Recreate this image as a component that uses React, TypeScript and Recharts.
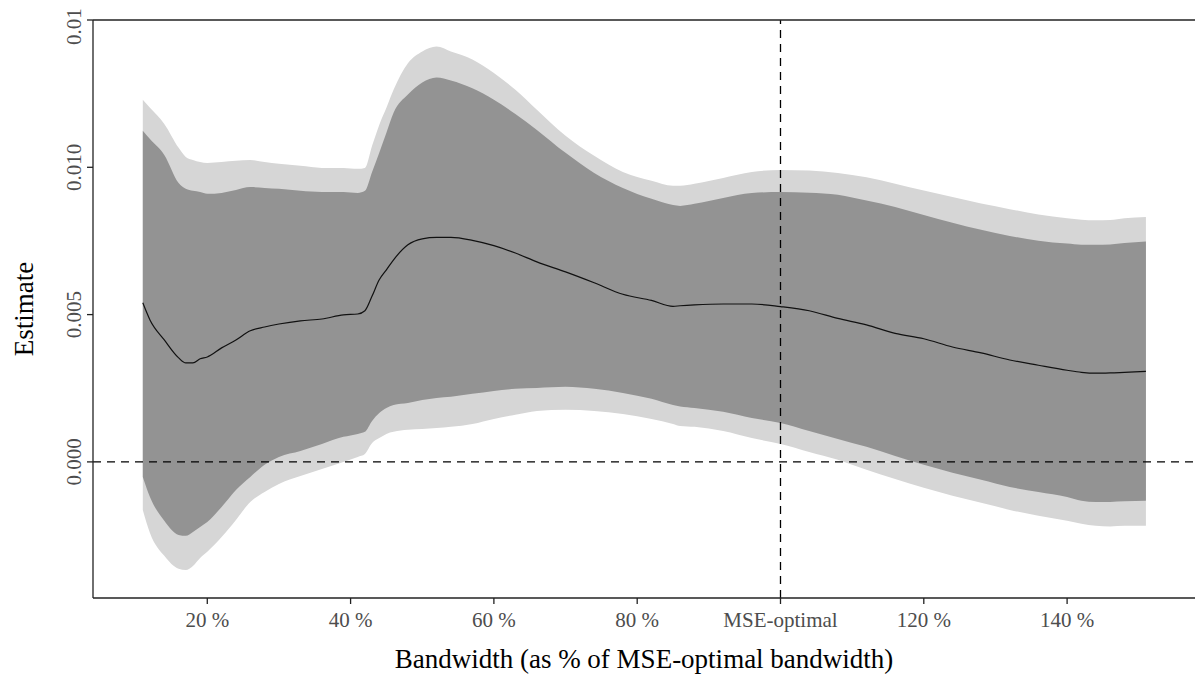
import { Area, ComposedChart, Label, Line, ReferenceLine, XAxis, YAxis } from "recharts";

// bandwidth as % of the MSE-optimal one
const pct = [11, 12, 14, 16, 17, 18, 19, 20, 22, 24, 26, 28, 30, 33, 36, 39, 41, 42, 43, 44, 45, 46, 48, 50, 52, 54, 57, 60, 63, 66, 70, 74, 78, 82, 85, 86, 88, 92, 96, 100, 104, 108, 112, 116, 120, 124, 128, 132, 136, 140, 142, 144, 146, 148, 151];

const estimate = [0.0054, 0.00482, 0.00414, 0.00353, 0.00336, 0.00336, 0.0035, 0.00356, 0.00387, 0.00414, 0.00445, 0.00458, 0.00468, 0.00479, 0.00485, 0.00499, 0.00502, 0.00513, 0.00563, 0.00618, 0.00652, 0.00686, 0.00737, 0.00757, 0.00762, 0.00762, 0.00752, 0.00734, 0.00709, 0.00679, 0.00645, 0.00608, 0.00569, 0.00548, 0.00528, 0.0053, 0.00533, 0.00536, 0.00536, 0.00527, 0.00513, 0.00487, 0.00465, 0.00436, 0.00418, 0.0039, 0.0037, 0.00346, 0.00328, 0.00311, 0.00304, 0.00301, 0.00302, 0.00304, 0.00307];

const innerUpper = [0.01124, 0.01096, 0.01042, 0.00947, 0.00927, 0.0092, 0.00916, 0.0091, 0.00913, 0.00923, 0.00933, 0.0093, 0.00927, 0.0092, 0.00916, 0.00916, 0.00913, 0.0092, 0.00984, 0.01049, 0.01117, 0.01185, 0.01247, 0.01288, 0.01305, 0.01295, 0.01268, 0.01229, 0.01181, 0.01127, 0.01049, 0.00981, 0.0093, 0.00893, 0.00872, 0.00869, 0.00876, 0.00896, 0.00913, 0.00916, 0.00914, 0.00907, 0.00887, 0.00865, 0.00838, 0.00812, 0.00788, 0.00767, 0.00751, 0.00741, 0.00737, 0.00737, 0.00738, 0.00743, 0.00748];

const innerLower = [-0.00051, -0.00119, -0.002, -0.00248, -0.00251, -0.00238, -0.00221, -0.00204, -0.00153, -0.00095, -0.00051, -0.0001, 0.00017, 0.00037, 0.00061, 0.00085, 0.00095, 0.00102, 0.00139, 0.00166, 0.00183, 0.00193, 0.002, 0.0021, 0.00217, 0.00221, 0.00231, 0.00241, 0.00248, 0.00251, 0.00255, 0.00248, 0.00234, 0.00214, 0.00193, 0.00188, 0.00183, 0.0017, 0.00149, 0.00132, 0.00105, 0.00078, 0.00051, 0.0002, -0.0001, -0.00037, -0.00061, -0.00085, -0.00102, -0.00119, -0.00132, -0.00136, -0.00136, -0.00134, -0.00132];

const outerUpper = [0.01229, 0.01202, 0.01147, 0.01066, 0.01035, 0.01025, 0.01018, 0.01015, 0.01018, 0.01022, 0.01025, 0.01018, 0.01012, 0.01005, 0.00998, 0.00998, 0.00995, 0.00998, 0.01073, 0.01144, 0.01202, 0.01263, 0.01353, 0.01393, 0.0141, 0.01393, 0.01366, 0.0132, 0.01263, 0.01195, 0.01107, 0.01039, 0.00984, 0.00954, 0.00937, 0.00937, 0.00944, 0.00964, 0.00984, 0.00991, 0.00989, 0.00981, 0.00966, 0.00944, 0.00921, 0.00899, 0.00877, 0.00858, 0.0084, 0.00827, 0.00822, 0.0082, 0.00821, 0.00827, 0.00831];

const outerLower = [-0.00163, -0.00241, -0.00319, -0.00363, -0.00367, -0.00353, -0.00326, -0.00305, -0.00255, -0.00197, -0.00136, -0.00102, -0.00075, -0.00048, -0.00024, 0, 0.00017, 0.00027, 0.00064, 0.00081, 0.00095, 0.00102, 0.00109, 0.00112, 0.00115, 0.00119, 0.00129, 0.00146, 0.0016, 0.00173, 0.00177, 0.00173, 0.00163, 0.00146, 0.00129, 0.00122, 0.00119, 0.00105, 0.00081, 0.00061, 0.00034, 0.00007, -0.00027, -0.00058, -0.00088, -0.00115, -0.00139, -0.00163, -0.00183, -0.002, -0.0021, -0.00217, -0.00219, -0.00217, -0.00217];

const xTicks = [20, 40, 60, 80, 100, 120, 140];
const yTicks = [0, 0.005, 0.01, 0.015];
// the top label is cut to "0.01" in the original
const yTickLabels = ["0.000", "0.005", "0.010", "0.01"];

const data = pct.map((p, i) => ({
  pct: p,
  estimate: estimate[i],
  inner: [innerLower[i], innerUpper[i]],
  outer: [outerLower[i], outerUpper[i]],
}));

const font = '"Liberation Serif", "Times New Roman", serif';

function XTick({ x, payload }: any) {
  const v = payload.value;
  return (
    <text x={x} y={627} textAnchor="middle" fontFamily={font} fontSize={21} fill="#4d4d4d">
      {v === 100 ? "MSE-optimal" : `${v} %`}
    </text>
  );
}

function YTick({ y, payload }: any) {
  const i = yTicks.indexOf(payload.value);
  const top = i === yTicks.length - 1;
  const ty = top ? 45 : y;
  return (
    <text
      x={81}
      y={ty}
      transform={`rotate(-90, 81, ${ty})`}
      textAnchor={top ? "start" : "middle"}
      fontFamily={font}
      fontSize={21}
      fill="#4d4d4d"
    >
      {yTickLabels[i]}
    </text>
  );
}

export default function App() {
  return (
    <div style={{ position: "absolute", left: 0, top: 0, background: "#fff" }}>
      <ComposedChart width={1195} height={674} data={data} margin={{ top: 20, right: 0, bottom: 0, left: 0 }}>
        <XAxis
          dataKey="pct"
          type="number"
          domain={[4.05, 157.85]}
          allowDataOverflow
          ticks={xTicks}
          tick={<XTick />}
          tickSize={6}
          height={76}
          stroke="#222"
          strokeWidth={1.3}
        >
          <Label
            content={() => (
              <text x={644} y={668} textAnchor="middle" fontFamily={font} fontSize={27} fill="#000">
                Bandwidth (as % of MSE-optimal bandwidth)
              </text>
            )}
          />
        </XAxis>
        <YAxis
          type="number"
          domain={[-0.00462, 0.015]}
          allowDataOverflow
          ticks={yTicks}
          tick={<YTick />}
          tickSize={6}
          width={93}
          stroke="#222"
          strokeWidth={1.3}
        >
          <Label
            content={() => (
              <text x={33} y={309} transform="rotate(-90, 33, 309)" textAnchor="middle" fontFamily={font} fontSize={27} fill="#000">
                Estimate
              </text>
            )}
          />
        </YAxis>
        <Area dataKey="outer" type="monotone" fill="#d6d6d6" fillOpacity={1} stroke="none" isAnimationActive={false} />
        <Area dataKey="inner" type="monotone" fill="#939393" fillOpacity={1} stroke="none" isAnimationActive={false} />
        <Line dataKey="estimate" type="monotone" stroke="#111" strokeWidth={1.2} dot={false} isAnimationActive={false} />
        <ReferenceLine y={0} stroke="#000" strokeWidth={1.3} strokeDasharray="8 6" />
        <ReferenceLine x={100} stroke="#000" strokeWidth={1.3} strokeDasharray="8 6" />
        <ReferenceLine y={0.015} stroke="#222" strokeWidth={1.3} />
      </ComposedChart>
    </div>
  );
}
